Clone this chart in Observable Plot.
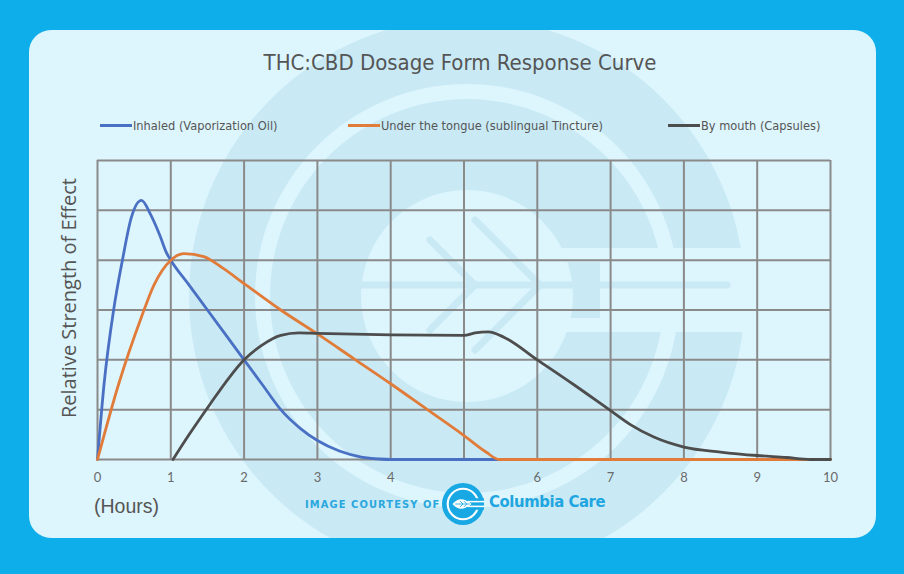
<!DOCTYPE html>
<html>
<head>
<meta charset="utf-8">
<script src="https://cdn.jsdelivr.net/npm/d3@7"></script>
<script src="https://cdn.jsdelivr.net/npm/@observablehq/plot@0.6"></script>
<style>
  html, body { margin: 0; padding: 0; }
  body { width: 904px; height: 574px; background: #0eaeeb; position: relative; overflow: hidden; }
  #card { position: absolute; left: 29px; top: 30px; width: 847px; height: 508px; border-radius: 22px; background: #ddf5fd; overflow: hidden; }
  #wm { position: absolute; left: -29px; top: -30px; }
  .abs { position: absolute; white-space: nowrap; }
  .cond { font-family: "DejaVu Sans Condensed", "DejaVu Sans", sans-serif; font-stretch: condensed; }
  #title { left: 0; width: 920px; top: 50px; text-align: center; font-size: 22px; color: #555; }
  .leg { top: 118px; font-size: 12.7px; color: #555; display: flex; align-items: center; }
  .sw { display: inline-block; width: 32px; height: 3px; margin-right: 1px; }
  #ylab { left: 68px; top: 298px; transform: translate(-50%, -50%) rotate(-90deg); font-family: "Open Sans", sans-serif; font-size: 20px; color: #555; }
  #hours { left: 94px; top: 495px; font-family: "Liberation Sans", sans-serif; font-size: 19.5px; color: #555; }
  #courtesy { left: 305px; top: 498px; font-weight: bold; font-size: 11px; letter-spacing: 1.1px; color: #2aa7de; }
  #brand { left: 489px; top: 492px; font-weight: bold; font-size: 16.5px; color: #1fa6e0; letter-spacing: -0.4px; }
  #chart { position: absolute; left: 0; top: 140px; }
</style>
</head>
<body>
<div id="card">
  <svg id="wm" width="904" height="574">
    <circle cx="467" cy="296" r="278" fill="#c9eaf5"/>
    <circle cx="467" cy="296" r="212" fill="#ddf5fd"/>
    <circle cx="467" cy="296" r="197" fill="#c9eaf5"/>
    <rect x="560" y="248" width="200" height="14" fill="#ddf5fd"/>
    <rect x="560" y="318" width="200" height="14" fill="#ddf5fd"/>
    <rect x="600" y="262" width="200" height="56" fill="#ddf5fd"/>
    <circle cx="467" cy="296" r="106" fill="#ddf5fd"/>
    <g stroke="#c9eaf5" stroke-width="7" fill="none" stroke-linecap="round">
      <line x1="360" y1="285" x2="727" y2="285"/>
      <polyline points="430,240 475,285 430,330"/>
      <polyline points="475,220 540,285 475,350"/>
    </g>
  </svg>
</div>
<div id="title" class="abs cond">THC:CBD Dosage Form Response Curve</div>
<div id="ylab" class="abs">Relative Strength of Effect</div>
<div id="hours" class="abs">(Hours)</div>
<div id="courtesy" class="abs cond">IMAGE COURTESY OF</div>
<svg class="abs" style="left:442px;top:483px" width="42" height="42" viewBox="1 1 44 44">
  <circle cx="23" cy="23" r="22" fill="#18a8e3"/>
  <circle cx="23" cy="23" r="16" fill="none" stroke="#ffffff" stroke-width="2.2"/>
  <rect x="28" y="17" width="20" height="12" fill="#18a8e3"/>
  <line x1="28" y1="20.5" x2="46" y2="20.5" stroke="#ffffff" stroke-width="1.6"/>
  <line x1="28" y1="25.5" x2="46" y2="25.5" stroke="#ffffff" stroke-width="1.6"/>
  <path d="M12,23 Q20,13 32,23 Q20,33 12,23 Z" fill="#ffffff"/>
  <path d="M15,23 L30,23 M20,20 L23,23 L20,26 M24,20 L27,23 L24,26" stroke="#18a8e3" stroke-width="0.9" fill="none"/>
</svg>
<div id="brand" class="abs cond">Columbia Care</div>
<div id="legend"></div>
<div id="chart"></div>
<script>
// ---- data ----
const seriesNames = ["Inhaled (Vaporization Oil)", "Under the tongue (sublingual Tincture)", "By mouth (Capsules)"];
const seriesColors = ["#4a70c4", "#e07b3a", "#4d4d4d"];

const inhaledHours = [0, 0.09, 0.22, 0.34, 0.46, 0.6, 0.72, 0.85, 0.94, 1.0, 1.25, 1.5, 1.75, 2.0, 2.25, 2.5, 2.77, 3.0, 3.3, 3.6, 3.85, 4.0, 5.0, 5.5];
const inhaledEffect = [0, 1.52, 3.0, 4.0, 4.85, 5.2, 4.93, 4.5, 4.15, 4.0, 3.5, 3.0, 2.5, 2.0, 1.5, 1.0, 0.62, 0.38, 0.17, 0.05, 0.01, 0, 0, 0];

const tinctureHours = [0, 0.29, 0.6, 0.77, 1.0, 1.18, 1.45, 1.7, 2.0, 2.5, 3.0, 3.5, 4.0, 4.5, 5.0, 5.3, 5.48, 6, 7, 8, 9, 10];
const tinctureEffect = [0, 1.52, 2.86, 3.5, 4.0, 4.13, 4.07, 3.85, 3.53, 3.0, 2.52, 2.02, 1.52, 1.0, 0.48, 0.15, 0, 0, 0, 0, 0, 0];

const capsuleHours = [1.03, 1.25, 1.54, 1.8, 2.0, 2.25, 2.5, 2.75, 3.0, 4.0, 5.0, 5.15, 5.33, 5.55, 6.0, 6.5, 7.0, 7.27, 7.59, 8.0, 8.5, 9.0, 9.4, 9.73, 10];
const capsuleEffect = [0, 0.5, 1.12, 1.65, 2.0, 2.3, 2.49, 2.54, 2.53, 2.5, 2.49, 2.54, 2.56, 2.45, 2.0, 1.5, 0.98, 0.7, 0.45, 0.25, 0.15, 0.08, 0.04, 0, 0];

const xTickValues = [0, 1, 2, 3, 4, 6, 7, 8, 9, 10];
const xGridValues = [0, 1, 2, 3, 4, 5, 6, 7, 8, 9, 10];
const yGridValues = [0, 1, 2, 3, 4, 5, 6];

// ---- legend ----
const legendLefts = [100, 348, 668];
const legend = document.getElementById("legend");
seriesNames.forEach((n, i) => {
  const d = document.createElement("div");
  d.className = "abs leg cond";
  d.style.left = legendLefts[i] + "px";
  d.innerHTML = `<span class="sw" style="background:${seriesColors[i]}"></span>${n}`;
  legend.appendChild(d);
});

const toRows = (xs, ys, s) => xs.map((x, i) => ({hour: x, effect: ys[i], series: s}));
const inhaled = toRows(inhaledHours, inhaledEffect, seriesNames[0]);
const tincture = toRows(tinctureHours, tinctureEffect, seriesNames[1]);
const capsule = toRows(capsuleHours, capsuleEffect, seriesNames[2]);

const chart = Plot.plot({
  width: 904,
  height: 360,
  marginLeft: 97,
  marginRight: 74,
  marginTop: 20,
  marginBottom: 41,
  style: {background: "transparent", fontFamily: "Lato, sans-serif", fontSize: "13px", color: "#6a6a6a", overflow: "visible"},
  x: {domain: [0, 10], ticks: xTickValues, tickSize: 0, tickPadding: 13, label: null},
  y: {domain: [0, 6], axis: null},
  marks: [
    Plot.ruleX(xGridValues, {y1: 0, y2: 6, stroke: "#8a8a8a", strokeWidth: 2}),
    Plot.ruleY(yGridValues, {x1: 0, x2: 10, stroke: "#8a8a8a", strokeWidth: 2}),
    Plot.line(inhaled, {x: "hour", y: "effect", stroke: seriesColors[0], strokeWidth: 2.8, curve: "monotone-x"}),
    Plot.line(tincture, {x: "hour", y: "effect", stroke: seriesColors[1], strokeWidth: 2.8, curve: "monotone-x"}),
    Plot.line(capsule, {x: "hour", y: "effect", stroke: seriesColors[2], strokeWidth: 2.8, curve: "monotone-x"})
  ]
});
document.getElementById("chart").appendChild(chart);
</script>
</body>
</html>
